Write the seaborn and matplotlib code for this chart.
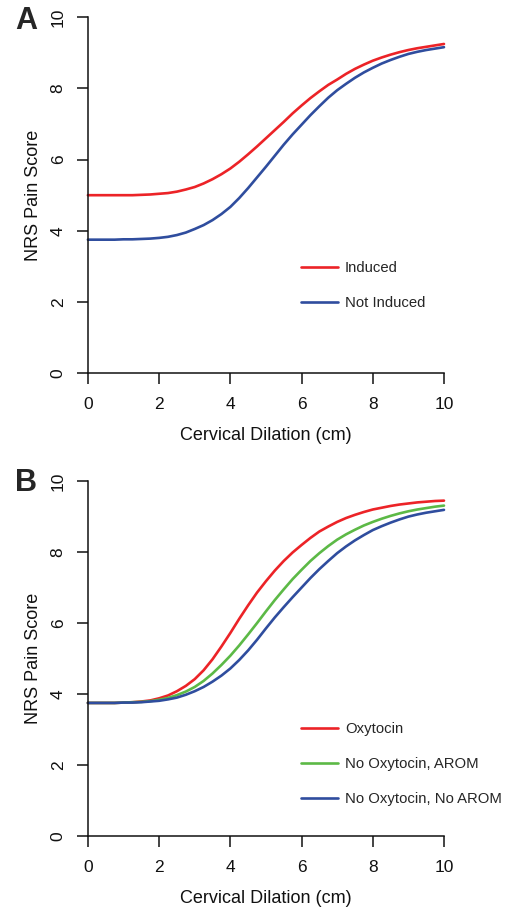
import numpy as np
import pandas as pd
import matplotlib
matplotlib.use("Agg")
import matplotlib.pyplot as plt
import seaborn as sns

# Cervical dilation (cm), every 0.25 cm
dilation = [0.0, 0.25, 0.5, 0.75, 1.0, 1.25, 1.5, 1.75, 2.0, 2.25, 2.5, 2.75,
            3.0, 3.25, 3.5, 3.75, 4.0, 4.25, 4.5, 4.75, 5.0, 5.25, 5.5, 5.75,
            6.0, 6.25, 6.5, 6.75, 7.0, 7.25, 7.5, 7.75, 8.0, 8.25, 8.5, 8.75,
            9.0, 9.25, 9.5, 9.75, 10.0]

# Panel A
induced = [5.00, 5.00, 5.00, 5.00, 5.00, 5.00, 5.01, 5.02, 5.04, 5.06, 5.10, 5.16,
           5.23, 5.33, 5.45, 5.59, 5.75, 5.94, 6.15, 6.37, 6.60, 6.83, 7.06, 7.30,
           7.52, 7.73, 7.92, 8.10, 8.25, 8.41, 8.55, 8.67, 8.78, 8.87, 8.95, 9.02,
           9.08, 9.13, 9.17, 9.21, 9.25]
not_induced = [3.75, 3.75, 3.75, 3.75, 3.76, 3.76, 3.77, 3.78, 3.80, 3.83, 3.88, 3.95,
               4.05, 4.16, 4.30, 4.47, 4.67, 4.92, 5.20, 5.50, 5.80, 6.11, 6.42, 6.71,
               6.98, 7.25, 7.50, 7.74, 7.95, 8.13, 8.30, 8.45, 8.58, 8.70, 8.80, 8.89,
               8.97, 9.03, 9.08, 9.12, 9.16]

# Panel B
oxytocin = [3.75, 3.75, 3.75, 3.75, 3.76, 3.77, 3.79, 3.82, 3.88, 3.96, 4.08, 4.23,
            4.42, 4.67, 4.98, 5.34, 5.72, 6.12, 6.50, 6.86, 7.18, 7.48, 7.75, 7.99,
            8.20, 8.40, 8.58, 8.72, 8.85, 8.96, 9.05, 9.13, 9.20, 9.25, 9.30, 9.34,
            9.37, 9.40, 9.42, 9.44, 9.45]
no_oxy_arom = [3.75, 3.75, 3.75, 3.75, 3.76, 3.77, 3.78, 3.80, 3.84, 3.89, 3.97, 4.07,
               4.20, 4.37, 4.58, 4.82, 5.08, 5.37, 5.68, 6.00, 6.33, 6.65, 6.95, 7.24,
               7.50, 7.75, 7.97, 8.17, 8.35, 8.50, 8.63, 8.75, 8.85, 8.94, 9.02, 9.09,
               9.15, 9.20, 9.24, 9.28, 9.31]
no_oxy_no_arom = [3.75, 3.75, 3.75, 3.75, 3.76, 3.76, 3.77, 3.79, 3.81, 3.85, 3.90, 3.98,
                  4.08, 4.20, 4.35, 4.52, 4.72, 4.96, 5.23, 5.53, 5.85, 6.16, 6.45, 6.73,
                  7.00, 7.27, 7.52, 7.75, 7.97, 8.16, 8.33, 8.48, 8.62, 8.73, 8.83, 8.92,
                  9.00, 9.06, 9.11, 9.15, 9.19]

labels_a = ["Induced", "Not Induced"]
labels_b = ["Oxytocin", "No Oxytocin, AROM", "No Oxytocin, No AROM"]

RED = "#ec2327"
GREEN = "#5cb946"
BLUE = "#2f4d9e"

sns.set_theme(style="ticks")
plt.rcParams['font.family'] = ['Liberation Sans', 'DejaVu Sans']


def long_df(groups, labels):
    frames = []
    for vals, lab in zip(groups, labels):
        frames.append(pd.DataFrame({"x": dilation, "y": vals, "group": lab}))
    return pd.concat(frames, ignore_index=True)


def style_axis(ax):
    ax.set_xlim(0, 10)
    ax.set_ylim(0, 10)
    ax.set_xticks([0, 2, 4, 6, 8, 10])
    ax.set_yticks([0, 2, 4, 6, 8, 10])
    for side in ["top", "right"]:
        ax.spines[side].set_visible(False)
    for side in ["left", "bottom"]:
        ax.spines[side].set_linewidth(1.1)
        ax.spines[side].set_color("#111111")
    ax.tick_params(axis="both", length=8, width=1.1, colors="#111111",
                   labelsize=12.5, direction="out")
    ax.tick_params(axis="x", pad=9)
    ax.tick_params(axis="y", pad=8)
    for t in ax.get_yticklabels():
        t.set_rotation(90)
        t.set_va("center")
    ax.set_xlabel("Cervical Dilation (cm)", fontsize=13, labelpad=11, color="#111111")
    ax.set_ylabel("NRS Pain Score", fontsize=13, labelpad=6, color="#111111")


fig = plt.figure(figsize=(5.08, 9.10), dpi=100)
ax_a = fig.add_axes([0.173, 0.590, 0.701, 0.391])
ax_b = fig.add_axes([0.173, 0.0813, 0.701, 0.390])

df_a = long_df([induced, not_induced], labels_a)
sns.lineplot(data=df_a, x="x", y="y", hue="group", palette=[RED, BLUE],
             linewidth=1.9, ax=ax_a, clip_on=False)
df_b = long_df([oxytocin, no_oxy_arom, no_oxy_no_arom], labels_b)
sns.lineplot(data=df_b, x="x", y="y", hue="group", palette=[RED, GREEN, BLUE],
             linewidth=1.9, ax=ax_b, clip_on=False)

for ax, top in [(ax_a, 0.315), (ax_b, 0.3205)]:
    style_axis(ax)
    leg = ax.legend(loc="upper left", bbox_to_anchor=(0.598, top), frameon=False,
                    fontsize=10.7, handlelength=2.5, handletextpad=0.47,
                    labelspacing=1.4, borderpad=0, borderaxespad=0)
    for line in leg.get_lines():
        line.set_linewidth(1.9)

fig.text(0.030, 0.977, "A", fontsize=22, fontweight="bold", va="center", ha="left")
fig.text(0.030, 0.469, "B", fontsize=22, fontweight="bold", va="center", ha="left")

fig.savefig("out.png", dpi=100)
